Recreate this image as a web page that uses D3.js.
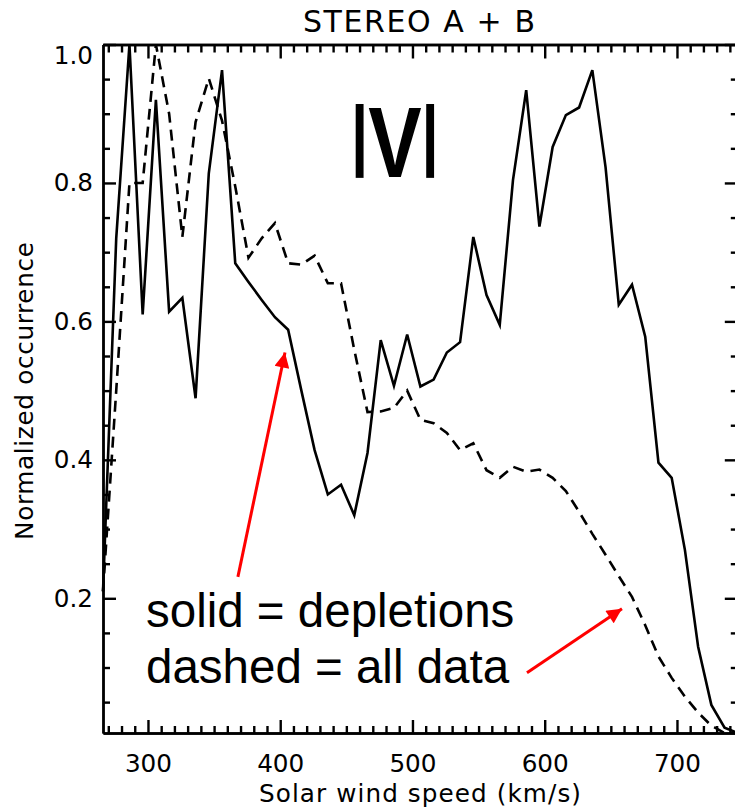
<!DOCTYPE html>
<html>
<meta charset="utf-8">
<style>
  body { margin: 0; background: #fff; }
  .tick text { font-family: "DejaVu Sans", sans-serif; font-size: 24.7px; fill: #000; }
  .domain, .tick line { stroke: #000; stroke-width: 2.4; }
  .curve { fill: none; stroke: #000; stroke-width: 2.6; stroke-linejoin: miter; }
  .label { font-family: "DejaVu Sans", sans-serif; fill: #000; }
</style>

<body>
  <script src="https://d3js.org/d3.v7.min.js"></script>

  <script>
    let width = 735,
      height = 810;

    // solar wind speed bins (km/s)
    let speeds = [266, 276, 286, 296, 306, 316, 326, 336, 346, 356,
      366, 376, 386, 396, 406, 416, 426, 436, 446, 456,
      466, 476, 486, 496, 506, 516, 526, 536, 546, 556,
      566, 576, 586, 596, 606, 616, 626, 636, 646, 656,
      666, 676, 686, 696, 706, 716, 726, 736, 746];

    // solid = depletions
    let depletions = [0.21, 0.72, 1.0, 0.61, 0.92, 0.614, 0.634, 0.489, 0.814, 0.963,
      0.684, 0.657, 0.631, 0.606, 0.588, 0.50, 0.414, 0.35, 0.364, 0.32,
      0.41, 0.573, 0.507, 0.581, 0.506, 0.516, 0.555, 0.57, 0.722, 0.638,
      0.595, 0.804, 0.934, 0.737, 0.852, 0.898, 0.909, 0.963, 0.823, 0.624,
      0.653, 0.578, 0.396, 0.374, 0.27, 0.13, 0.046, 0.013, 0.0054];

    // dashed = all data
    let allData = [0.21, 0.50, 0.80, 0.80, 1.0, 0.90, 0.722, 0.888, 0.951, 0.89,
      0.795, 0.692, 0.72, 0.742, 0.684, 0.682, 0.695, 0.655, 0.655, 0.559,
      0.469, 0.47, 0.475, 0.50, 0.458, 0.453, 0.439, 0.414, 0.424, 0.385,
      0.374, 0.39, 0.383, 0.386, 0.374, 0.355, 0.325, 0.293, 0.263, 0.232,
      0.202, 0.161, 0.116, 0.085, 0.058, 0.035, 0.016, 0.0054, 0.0054];

    let xMajor = [300, 400, 500, 600, 700];
    let xMinor = [270, 280, 290, 310, 320, 330, 340, 350, 360, 370, 380, 390,
      410, 420, 430, 440, 450, 460, 470, 480, 490, 510, 520, 530, 540, 550, 560, 570, 580, 590,
      610, 620, 630, 640, 650, 660, 670, 680, 690, 710, 720, 730, 740];
    let yMajor = [0.2, 0.4, 0.6, 0.8, 1.0];
    let yMinor = [0.05, 0.1, 0.15, 0.25, 0.3, 0.35, 0.45, 0.5, 0.55, 0.65, 0.7, 0.75, 0.85, 0.9, 0.95];

    // red annotation arrows, [speed, occurrence] of tail and tip
    let arrows = [
      { from: [368, 0.231], to: [403.6, 0.555] },
      { from: [586.6, 0.0925], to: [658.4, 0.185] }
    ];
    let noteLines = ["solid = depletions", "dashed = all data"];

    let x = d3.scaleLinear().domain([266, 746]).range([103, 737.8]);
    let y = d3.scaleLinear().domain([0.0054, 1.0]).range([733, 44.5]);

    let svg = d3.select("body").append("svg")
      .attr("width", width)
      .attr("height", height);

    function drawAxes() {
      let big = 13, small = 7;
      let fmt = d3.format(".1f");

      // bottom
      svg.append("g").attr("transform", "translate(0,733)")
        .call(d3.axisBottom(x).tickValues(xMinor).tickSize(-small).tickSizeOuter(0).tickFormat(""));
      svg.append("g").attr("transform", "translate(0,733)")
        .call(d3.axisBottom(x).tickValues(xMajor).tickSize(-big).tickSizeOuter(0).tickPadding(21));
      // top
      svg.append("g").attr("transform", "translate(0,44.5)")
        .call(d3.axisTop(x).tickValues(xMinor).tickSize(-small - 1).tickSizeOuter(0).tickFormat(""));
      svg.append("g").attr("transform", "translate(0,44.5)")
        .call(d3.axisTop(x).tickValues(xMajor).tickSize(-big - 1).tickSizeOuter(0).tickFormat(""));
      // left
      svg.append("g").attr("transform", "translate(103,0)")
        .call(d3.axisLeft(y).tickValues(yMinor).tickSize(-small).tickSizeOuter(0).tickFormat(""));
      let left = svg.append("g").attr("transform", "translate(103,0)")
        .call(d3.axisLeft(y).tickValues(yMajor).tickSize(-big).tickSizeOuter(0).tickPadding(10).tickFormat(fmt));
      left.selectAll(".tick text").filter(d => d === 1.0).attr("dy", "0.75em");
      // right
      svg.append("g").attr("transform", "translate(737.8,0)")
        .call(d3.axisRight(y).tickValues(yMinor).tickSize(-small).tickSizeOuter(0).tickFormat(""));
      svg.append("g").attr("transform", "translate(737.8,0)")
        .call(d3.axisRight(y).tickValues(yMajor).tickSize(-big).tickSizeOuter(0).tickFormat(""));

      svg.selectAll(".domain").attr("stroke-width", 2.6);
    }

    function drawCurves() {
      let line = d3.line()
        .x((d, i) => x(speeds[i]))
        .y(d => y(d));

      svg.append("path")
        .datum(allData)
        .attr("class", "curve")
        .attr("stroke-dasharray", "11,7")
        .attr("d", line);

      svg.append("path")
        .datum(depletions)
        .attr("class", "curve")
        .attr("d", line);
    }

    function drawLabels() {
      svg.append("text")
        .attr("class", "label")
        .attr("x", 419).attr("y", 32)
        .attr("text-anchor", "middle")
        .attr("font-size", 30)
        .attr("textLength", 232)
        .text("STEREO A + B");

      svg.append("text")
        .attr("class", "label")
        .attr("x", 420).attr("y", 802)
        .attr("text-anchor", "middle")
        .attr("font-size", 24.7)
        .attr("textLength", 322)
        .text("Solar wind speed (km/s)");

      svg.append("text")
        .attr("class", "label")
        .attr("transform", "translate(33,391) rotate(-90)")
        .attr("text-anchor", "middle")
        .attr("font-size", 24.7)
        .attr("textLength", 298)
        .text("Normalized occurrence");

      // big |V|
      let v = svg.append("text")
        .attr("transform", "translate(351,177) scale(0.8,1)")
        .attr("font-family", "'Liberation Sans', Arial, sans-serif")
        .attr("font-weight", "bold");
      v.append("tspan").attr("font-size", 77).attr("dy", -16).text("|");
      v.append("tspan").attr("font-size", 100).attr("dy", 16).text("V");
      v.append("tspan").attr("font-size", 77).attr("dy", -16).text("|");

      // annotation text
      svg.selectAll(".note")
        .data(noteLines)
        .join("text")
        .attr("class", "note")
        .attr("x", x(298.5))
        .attr("y", (d, i) => i === 0 ? y(0.159) : y(0.078))
        .attr("font-family", "'Liberation Sans', Arial, sans-serif")
        .attr("font-size", 47.5)
        .attr("fill", "#000")
        .text(d => d);
    }

    function drawArrows() {
      svg.append("defs").append("marker")
        .attr("id", "head")
        .attr("viewBox", "0 0 10 10")
        .attr("refX", 10).attr("refY", 5)
        .attr("markerUnits", "userSpaceOnUse")
        .attr("markerWidth", 17).attr("markerHeight", 15)
        .attr("orient", "auto")
        .append("path")
        .attr("d", "M0,0 L10,5 L0,10 z")
        .attr("fill", "red");

      svg.selectAll(".arrow")
        .data(arrows)
        .join("line")
        .attr("class", "arrow")
        .attr("x1", d => x(d.from[0])).attr("y1", d => y(d.from[1]))
        .attr("x2", d => x(d.to[0])).attr("y2", d => y(d.to[1]))
        .attr("stroke", "red")
        .attr("stroke-width", 3)
        .attr("marker-end", "url(#head)");
    }

    drawAxes();
    drawCurves();
    drawLabels();
    drawArrows();
  </script>

</body>

</html>
